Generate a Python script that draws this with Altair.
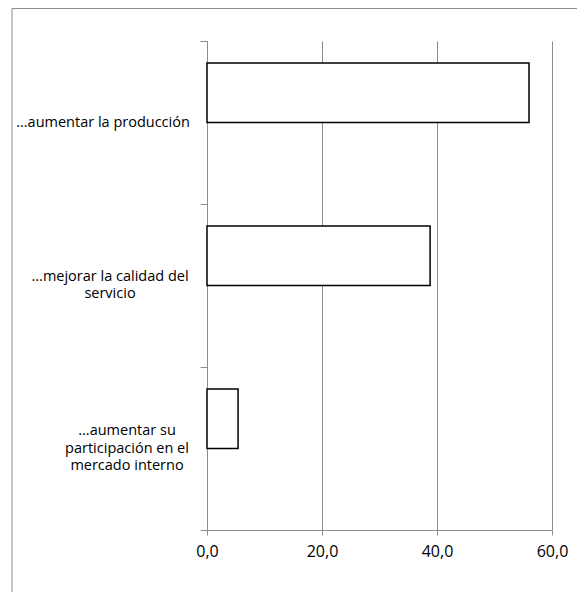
import altair as alt
import pandas as pd

# ---- data ----
categories = [
    "...aumentar la producción",
    "...mejorar la calidad del\nservicio",
    "...aumentar su\nparticipación en el\nmercado interno",
]
values = [56.0, 38.8, 5.4]
series_names = ["Serie 1", "Serie 2"]
x_ticks = [0, 20, 40, 60]

df = pd.DataFrame({
    "categoria": categories,
    "valor": values,
    "serie": [series_names[0]] * len(categories),
})

# ---- style ----
GRAY = "#8c8c8c"
FONT = "Open Sans"
W, H = 345, 489
LINE_H = 17.5
# horizontal centre of each category label block (plot coords, left of the axis)
LABEL_CENTER = [-104, -97, -80]

y_enc = alt.Y(
    "categoria:N",
    sort=categories,
    scale=alt.Scale(paddingInner=0, paddingOuter=0),
    axis=alt.Axis(
        title=None,
        grid=False,
        labels=False,
        tickBand="extent",
        tickSize=7,
        tickColor=GRAY,
        domainColor=GRAY,
    ),
)

bars = alt.Chart(df).mark_bar(fill="white", stroke="black", strokeWidth=1.5).encode(
    x=alt.X(
        "valor:Q",
        scale=alt.Scale(domain=[0, 60], nice=False),
        axis=alt.Axis(
            title=None,
            values=x_ticks,
            labelExpr="replace(format(datum.value, '.1f'), '.', ',')",
            labelFlush=False,
            grid=True,
            gridColor=GRAY,
            gridWidth=1,
            domainColor=GRAY,
            tickColor=GRAY,
            tickSize=5,
            labelFont=FONT,
            labelFontSize=16,
            labelColor="black",
            labelPadding=8,
        ),
    ),
    y=y_enc,
    yOffset=alt.YOffset(
        "serie:N",
        scale=alt.Scale(domain=series_names, paddingOuter=0.37, paddingInner=0),
    ),
)

label_layers = []
for cat, cx in zip(categories, LABEL_CENTER):
    n_extra = cat.count("\n")
    label_layers.append(
        alt.Chart(df)
        .transform_filter(alt.datum.categoria == cat)
        .mark_text(
            align="center",
            baseline="middle",
            lineBreak="\n",
            lineHeight=LINE_H,
            dy=-n_extra * LINE_H / 2,
            font=FONT,
            fontSize=14.5,
            color="black",
        )
        .encode(
            y=y_enc,
            x=alt.value(cx),
            text="categoria:N",
        )
    )

border = alt.Chart(alt.Data(values=[{}])).mark_rect(
    fillOpacity=0, stroke=GRAY, strokeWidth=1
).encode(
    x=alt.value(-195),
    x2=alt.value(W + 200),
    y=alt.value(-32.5),
    y2=alt.value(H + 200),
)

chart = alt.layer(border, bars, *label_layers).properties(
    width=W,
    height=H,
    padding={"left": 199, "top": 33, "right": 25, "bottom": 62},
    autosize=alt.AutoSizeParams(type="none"),
).configure_view(strokeOpacity=0)

chart.save("out.html", embed_options={"renderer": "svg", "actions": False})
